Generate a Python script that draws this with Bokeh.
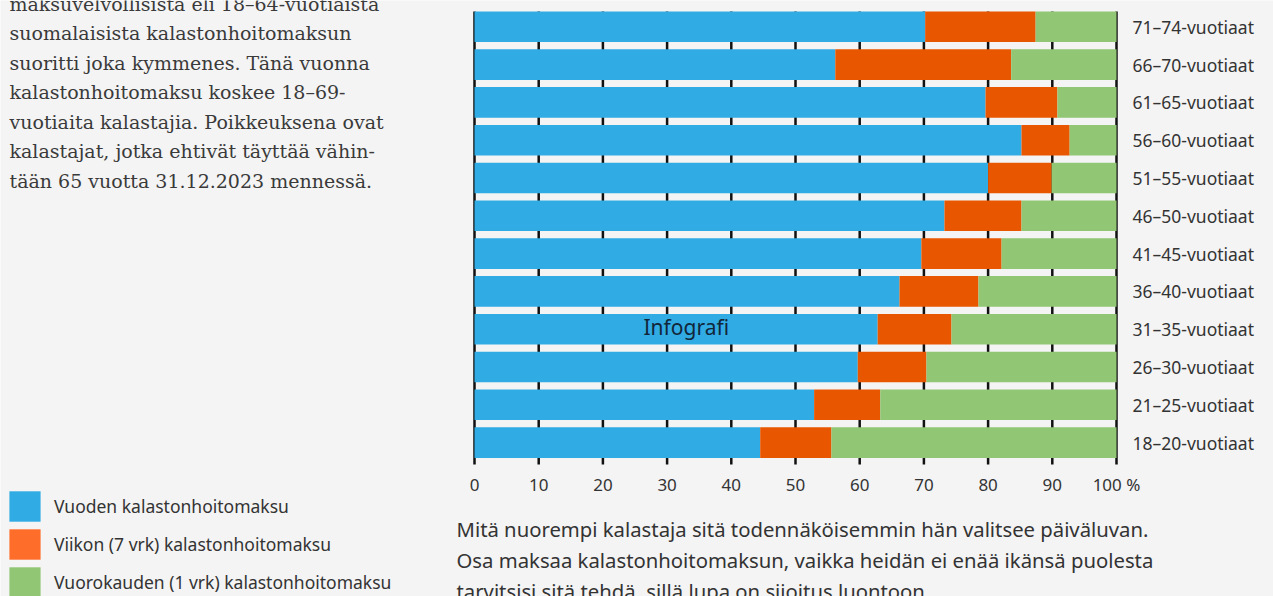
from bokeh.plotting import figure
from bokeh.models import (ColumnDataSource, Range1d, FixedTicker, Label, Legend, LegendItem)
from bokeh.embed import file_html
from bokeh.resources import INLINE

# ---------------- data ----------------
categories = ["71–74-vuotiaat", "66–70-vuotiaat", "61–65-vuotiaat", "56–60-vuotiaat",
              "51–55-vuotiaat", "46–50-vuotiaat", "41–45-vuotiaat", "36–40-vuotiaat",
              "31–35-vuotiaat", "26–30-vuotiaat", "21–25-vuotiaat", "18–20-vuotiaat"]
annual = [70.2, 56.2, 79.6, 85.2, 80.0, 73.2, 69.6, 66.2, 62.8, 59.7, 52.9, 44.5]
weekly = [17.2, 27.4, 11.2, 7.5, 9.9, 12.0, 12.5, 12.3, 11.5, 10.7, 10.3, 11.1]
daily = [12.6, 16.4, 9.2, 7.3, 10.1, 14.8, 17.9, 21.5, 25.7, 29.6, 36.8, 44.4]
series_names = ["Vuoden kalastonhoitomaksu", "Viikon (7 vrk) kalastonhoitomaksu",
                "Vuorokauden (1 vrk) kalastonhoitomaksu"]
x_ticks = [0, 10, 20, 30, 40, 50, 60, 70, 80, 90, 100]
x_tick_labels = ["0", "10", "20", "30", "40", "50", "60", "70", "80", "90", "100 %"]

paragraph = ["maksuvelvollisista eli 18–64-vuotiaista",
             "suomalaisista kalastonhoitomaksun",
             "suoritti joka kymmenes. Tänä vuonna",
             "kalastonhoitomaksu koskee 18–69-",
             "vuotiaita kalastajia. Poikkeuksena ovat",
             "kalastajat, jotka ehtivät täyttää vähin-",
             "tään 65 vuotta 31.12.2023 mennessä."]
caption = ["Mitä nuorempi kalastaja sitä todennäköisemmin hän valitsee päiväluvan.",
           "Osa maksaa kalastonhoitomaksun, vaikka heidän ei enää ikänsä puolesta",
           "tarvitsisi sitä tehdä, sillä lupa on sijoitus luontoon."]
watermark = "Infografi"

# ---------------- styles / geometry (pixels) ----------------
BAR_COLORS = ["#31abe3", "#e85700", "#91c675"]
LEGEND_COLORS = ["#31abe3", "#ff6d2b", "#91c675"]
BG = "#f4f4f4"
TXT = "#333333"
SANS = "Noto Sans"
SERIF = "DejaVu Serif"

W, H = 1273, 596
CHART_L, CHART_R, CHART_T, CHART_B = 474, 1116, 11, 464
BAR_H = 0.81
n = len(categories)
ypos = [n - 1 - i for i in range(n)]
px_per_y = 37.8
Y_TOP = (n - 1) + BAR_H / 2
px_per_x = (CHART_R - CHART_L) / 100.0


def dx(px):
    return (px - CHART_L) / px_per_x


def dy(py):
    return Y_TOP - (py - CHART_T) / px_per_y


Y_BOT = dy(CHART_B)

source = ColumnDataSource(dict(y=ypos, annual=annual, weekly=weekly, daily=daily))
tick_src = ColumnDataSource(dict(x=x_ticks, y0=[Y_BOT] * len(x_ticks), y1=[Y_TOP] * len(x_ticks)))

p = figure(width=W, height=H, x_range=Range1d(dx(0), dx(W)), y_range=Range1d(dy(H), dy(0)),
           output_backend="svg", toolbar_location=None, y_axis_location="right",
           min_border=0, min_border_left=0, min_border_right=0, min_border_top=0,
           min_border_bottom=0,
           background_fill_color=BG, border_fill_color=BG, outline_line_color=None)

# tick marks that show in the gaps between bars
p.segment(x0="x", y0="y0", x1="x", y1="y1", source=tick_src, line_color="#111111",
          line_width=2.5)

p.hbar_stack(["annual", "weekly", "daily"], y="y", height=BAR_H, color=BAR_COLORS,
             line_color=None, source=source)

p.xgrid.grid_line_color = None
p.ygrid.grid_line_color = None

xa = p.xaxis[0]
xa.fixed_location = Y_BOT
xa.ticker = FixedTicker(ticks=x_ticks)
xa.major_label_overrides = {t: l for t, l in zip(x_ticks, x_tick_labels)}
xa.axis_line_color = None
xa.major_tick_line_color = None
xa.minor_tick_line_color = None
xa.major_tick_out = 0
xa.major_tick_in = 0
xa.major_label_standoff = 8
xa.major_label_text_font = SANS
xa.major_label_text_font_size = "17px"
xa.major_label_text_color = TXT

ya = p.yaxis[0]
ya.fixed_location = 100
ya.ticker = FixedTicker(ticks=ypos)
ya.major_label_overrides = {y: c for y, c in zip(ypos, categories)}
ya.axis_line_color = None
ya.major_tick_line_color = None
ya.minor_tick_line_color = None
ya.major_tick_out = 0
ya.major_tick_in = 0
ya.major_label_standoff = 16
ya.major_label_text_font = SANS
ya.major_label_text_font_size = "17.5px"
ya.major_label_text_color = TXT

# legend with its own swatches
nan = float("nan")
items = []
for name, col in zip(series_names, LEGEND_COLORS):
    r = p.hbar(y=[nan], right=[nan], height=BAR_H, color=col, line_color=None)
    items.append(LegendItem(label=name, renderers=[r]))
legend = Legend(items=items, location=(5, -5), glyph_width=39,
                glyph_height=38, spacing=0, padding=0, margin=0, label_standoff=10,
                label_height=38, label_text_font=SANS, label_text_font_size="17.5px",
                label_text_color=TXT, border_line_alpha=0, background_fill_alpha=0)
p.add_layout(legend)

# left paragraph
for i, line in enumerate(paragraph):
    p.add_layout(Label(x=dx(9), y=dy(3 + 29.5 * i), text=line, text_font=SERIF,
                       text_font_size="19px", text_color="#3a3a3a", text_baseline="middle",
                       text_align="left"))

# caption
for i, line in enumerate(caption):
    p.add_layout(Label(x=dx(456), y=dy(528 + 31 * i), text=line, text_font=SANS,
                       text_font_size="20.3px", text_color=TXT, text_baseline="middle",
                       text_align="left"))

p.add_layout(Label(x=dx(643), y=dy(326), text=watermark, text_font=SANS,
                   text_font_size="21px", text_color="#12263a", text_baseline="middle",
                   text_align="left"))

open("out.html", "w").write(file_html(p, INLINE))
